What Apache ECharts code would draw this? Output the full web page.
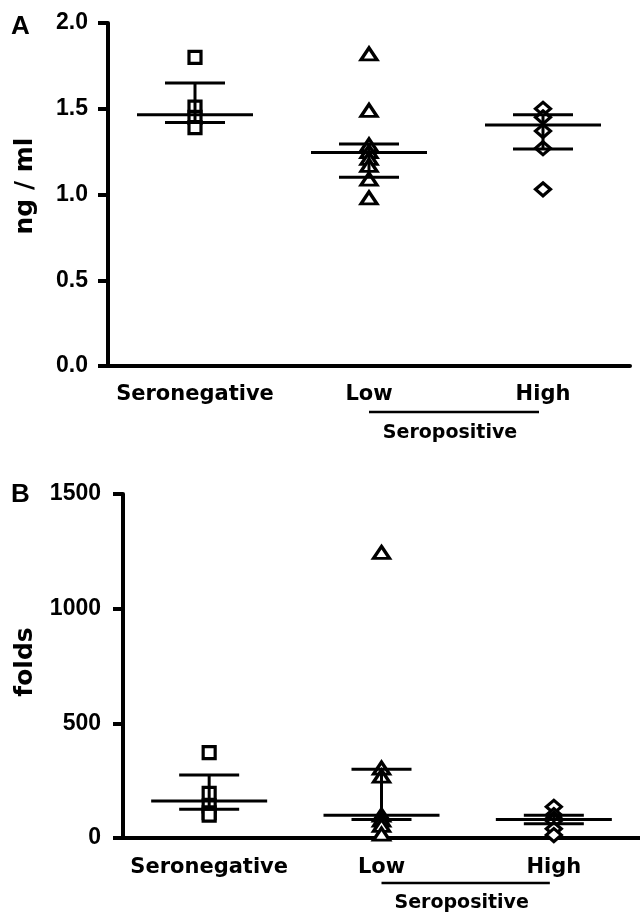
<!DOCTYPE html>
<html>
<head>
<meta charset="utf-8">
<script src="https://cdn.jsdelivr.net/npm/echarts@6/dist/echarts.min.js"></script>
<style>
  html, body { margin: 0; background: #fff; }
  #main { width: 640px; height: 916px; }
</style>
</head>
<body>
<div id="main"></div>
<script>
var groups = ['Seronegative', 'Low', 'High'];

// panel A: ng/ml
var aSero = [1.80, 1.51, 1.45, 1.39];
var aLow = [1.82, 1.49, 1.29, 1.25, 1.21, 1.17, 1.09, 0.98];
var aHigh = [1.50, 1.45, 1.37, 1.27, 1.03];
var aMedian = [1.465, 1.245, 1.405];
var aQ1 = [1.42, 1.10, 1.265];
var aQ3 = [1.65, 1.295, 1.465];

// panel B: folds
var bSero = [372, 195, 140, 110, 100];
var bLow = [1245, 305, 270, 100, 78, 55, 17];
var bHigh = [136, 100, 85, 75, 40, 13];
var bMedian = [161, 99, 81];
var bQ1 = [125, 81, 62];
var bQ3 = [275, 300, 99];

var chart = echarts.init(document.getElementById('main'));

var tickFont = { fontFamily: 'Liberation Sans', fontWeight: 'bold', fontSize: 23, color: '#000' };
var catFont = { fontFamily: 'DejaVu Sans', fontWeight: 'bold', fontSize: 21, color: '#000' };

function pts(idx, arr) {
  return arr.map(function (v) { return [idx, v]; });
}

// median line + interquartile bars
function errRender(params, api) {
  var x = api.value(0);
  var m = api.coord([x, api.value(1)]);
  var lo = api.coord([x, api.value(2)]);
  var hi = api.coord([x, api.value(3)]);
  var st = { stroke: '#000', lineWidth: 3 };
  return {
    type: 'group',
    children: [
      { type: 'line', shape: { x1: m[0], y1: lo[1], x2: m[0], y2: hi[1] }, style: st },
      { type: 'line', shape: { x1: m[0] - 58, y1: m[1], x2: m[0] + 58, y2: m[1] }, style: st },
      { type: 'line', shape: { x1: lo[0] - 30, y1: lo[1], x2: lo[0] + 30, y2: lo[1] }, style: st },
      { type: 'line', shape: { x1: hi[0] - 30, y1: hi[1], x2: hi[0] + 30, y2: hi[1] }, style: st }
    ]
  };
}

function errData(med, q1, q3) {
  return med.map(function (v, i) { return [i, v, q1[i], q3[i]]; });
}

function xAxisOf(gi, margin) {
  return {
    type: 'category',
    gridIndex: gi,
    data: groups,
    boundaryGap: true,
    axisLine: { lineStyle: { color: '#000', width: 4 } },
    axisTick: { alignWithLabel: true, interval: 0, length: 9, lineStyle: { color: '#000', width: 4 } },
    axisLabel: Object.assign({ margin: margin, interval: 0, hideOverlap: false }, catFont),
    splitLine: { show: false }
  };
}

function yAxisOf(gi, max, step, margin, fmt) {
  return {
    type: 'value',
    gridIndex: gi,
    min: 0,
    max: max,
    interval: step,
    axisLine: { show: true, lineStyle: { color: '#000', width: 4 } },
    axisTick: { show: true, length: 10, lineStyle: { color: '#000', width: 4 } },
    axisLabel: Object.assign({ margin: margin, formatter: fmt }, tickFont),
    splitLine: { show: false }
  };
}

function scatter(xi, data, symbol, size) {
  return {
    type: 'scatter',
    xAxisIndex: xi,
    yAxisIndex: xi,
    data: data,
    symbol: symbol,
    symbolSize: size,
    itemStyle: { color: '#fff', borderColor: '#000', borderWidth: 3.2, opacity: 1 },
    z: 2
  };
}

var option = {
  animation: false,
  backgroundColor: '#fff',
  grid: [
    { left: 108, top: 23, width: 522, height: 343 },
    { left: 123, top: 494, width: 517, height: 344 }
  ],
  xAxis: [xAxisOf(0, 18), xAxisOf(1, 19)],
  yAxis: [
    yAxisOf(0, 2.0, 0.5, 20, function (v) { return v.toFixed(1); }),
    yAxisOf(1, 1500, 500, 22, function (v) { return String(v); })
  ],
  series: [
    scatter(0, pts(0, aSero), 'rect', 12),
    scatter(0, pts(1, aLow), 'triangle', [16, 12]),
    scatter(0, pts(2, aHigh), 'diamond', [15, 13]),
    scatter(1, pts(0, bSero), 'rect', 12),
    scatter(1, pts(1, bLow), 'triangle', [16, 12]),
    scatter(1, pts(2, bHigh), 'diamond', [15, 13]),
    { type: 'custom', xAxisIndex: 0, yAxisIndex: 0, renderItem: errRender, data: errData(aMedian, aQ1, aQ3), z: 3 },
    { type: 'custom', xAxisIndex: 1, yAxisIndex: 1, renderItem: errRender, data: errData(bMedian, bQ1, bQ3), z: 3 }
  ]
};

chart.setOption(option);

// panel letters, axis titles and the "Seropositive" brackets under Low..High
function bracket(gi, yOff, textOff) {
  var p1 = chart.convertToPixel({ xAxisIndex: gi, yAxisIndex: gi }, [1, 0]);
  var p2 = chart.convertToPixel({ xAxisIndex: gi, yAxisIndex: gi }, [2, 0]);
  return [
    { type: 'line', shape: { x1: p1[0], y1: p1[1] + yOff, x2: p2[0] - 4, y2: p1[1] + yOff },
      style: { stroke: '#000', lineWidth: 2.5 } },
    { type: 'text', x: (p1[0] + p2[0]) / 2 - 6, y: p1[1] + textOff,
      style: { text: 'Seropositive', fontFamily: 'DejaVu Sans', fontWeight: 'bold', fontSize: 19,
               fill: '#000', align: 'center', verticalAlign: 'middle' } }
  ];
}

function yTitle(text, cy) {
  return {
    type: 'text', x: 25, y: cy, rotation: Math.PI / 2,
    style: { text: text, fontFamily: 'DejaVu Sans', fontWeight: 'bold', fontSize: 25,
             fill: '#000', align: 'center', verticalAlign: 'middle' }
  };
}

var letterStyle = { fontFamily: 'Liberation Sans', fontWeight: 'bold', fontSize: 26, fill: '#000' };
chart.setOption({
  graphic: [
    { type: 'text', left: 11, top: 14, style: Object.assign({ text: 'A' }, letterStyle) },
    { type: 'text', left: 11, top: 482, style: Object.assign({ text: 'B' }, letterStyle) },
    yTitle('ng / ml', 186),
    yTitle('folds', 662)
  ].concat(bracket(0, 46, 67)).concat(bracket(1, 45, 65))
});
</script>
</body>
</html>
